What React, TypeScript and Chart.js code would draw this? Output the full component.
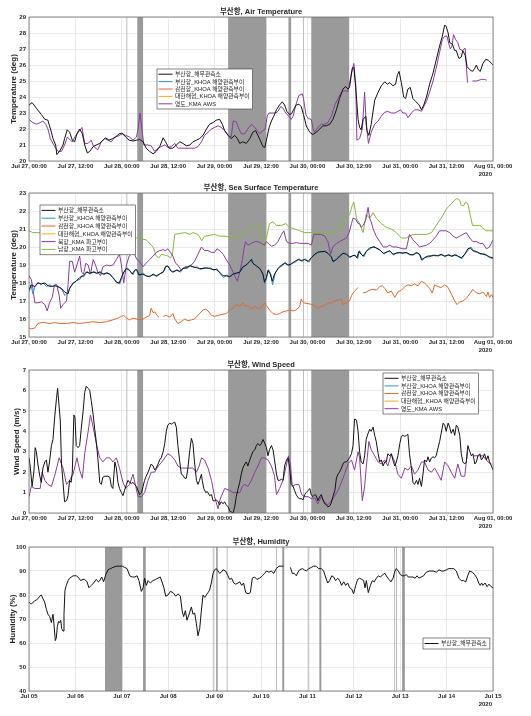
import React, { useEffect, useRef } from 'react';
import { Chart, registerables } from 'chart.js';
Chart.register(...registerables);

type Pt = [number, number | null];

// ---------- tick labels ----------
const JUL27_TICKS = ['Jul 27, 00:00', 'Jul 27, 12:00', 'Jul 28, 00:00', 'Jul 28, 12:00', 'Jul 29, 00:00', 'Jul 29, 12:00', 'Jul 30, 00:00', 'Jul 30, 12:00', 'Jul 31, 00:00', 'Jul 31, 12:00', 'Aug 01, 00:00'];
const JUL05_TICKS = ['Jul 05', 'Jul 06', 'Jul 07', 'Jul 08', 'Jul 09', 'Jul 10', 'Jul 11', 'Jul 12', 'Jul 13', 'Jul 14', 'Jul 15'];
const YEAR_LABEL = '2020';

// ---------- legend labels ----------
const L_OBS = '부산항_해무관측소';
const L_KHOA_BUSAN = '부산항_KHOA 해양관측부이';
const L_KHOA_GAMCHEON = '감천항_KHOA 해양관측부이';
const L_KHOA_STRAIT = '대한해협_KHOA 해양관측부이';
const L_AWS = '영도_KMA AWS';
const L_NORTH = '북항_KMA 파고부이';
const L_SOUTH = '남항_KMA 파고부이';

// ---------- shaded periods (hours from start) ----------
const BANDS_JUL27: [number, number][] = [[28.0, 29.5], [51.5, 61.4], [67.1, 67.8], [73.0, 82.8]];
const MARKS_JUL27 = [25.3, 71.0];
const BANDS_JUL05: [number, number][] = [[39.3, 48.3], [59.0, 60.4], [96.8, 97.6], [131.0, 132.0], [150.2, 151.2], [193.0, 194.4]];
const MARKS_JUL05 = [95.3, 102.5, 128.0, 144.7, 189.1, 190.1];

// ---------- Air temperature (hours since Jul 27 00:00, deg) ----------
const AIR_OBS: Pt[] = [[0,23.5],[0.8,23.65],[1.9,23.3],[3.2,22.9],[4.1,22.6],[4.9,22.55],[5.3,22.2],[5.8,21.8],[6.2,21.4],[6.9,21.0],[7.2,20.4],[7.9,20.6],[8.8,21.0],[9.2,21.4],[9.9,21.95],[10.5,21.8],[11.2,21.3],[11.8,21.2],[12.4,21.7],[13.1,22.0],[13.8,21.7],[14.4,21.0],[15.1,20.5],[15.7,20.6],[16.6,20.9],[17.4,21.0],[18.3,21.1],[19.1,21.3],[19.8,21.45],[20.7,21.3],[21.6,21.4],[22.4,21.5],[23.3,21.7],[24.1,21.75],[25.0,21.5],[25.9,21.3],[26.9,21.25],[27.8,21.3],[28.6,21.35],[29.5,21.2],[30.3,20.8],[31.2,20.6],[32.1,20.45],[32.9,20.6],[33.8,20.9],[34.7,21.45],[35.3,21.2],[36.2,20.8],[37.2,20.8],[38.1,21.0],[39.0,21.2],[39.8,21.1],[40.7,20.95],[41.6,21.0],[42.4,21.2],[43.3,21.3],[44.1,21.4],[45.0,21.6],[45.9,22.0],[46.7,22.3],[47.6,22.4],[48.4,22.55],[49.3,22.6],[50.0,22.3],[50.6,21.9],[51.5,21.6],[52.3,21.4],[53.2,21.6],[53.9,21.4],[54.5,21.1],[55.3,21.2],[56.2,21.1],[57.1,21.4],[57.9,21.8],[58.6,21.9],[59.2,21.6],[59.8,21.3],[60.5,20.9],[61.0,20.85],[61.4,21.3],[62.1,22.1],[62.7,22.5],[63.3,22.8],[64.0,23.2],[64.8,23.5],[65.5,23.7],[66.1,23.5],[66.7,23.1],[67.4,22.9],[67.9,22.95],[68.4,23.2],[69.1,23.5],[69.8,23.55],[70.4,23.4],[71.0,22.9],[71.7,22.2],[72.6,21.8],[73.4,21.65],[74.3,21.8],[75.2,22.0],[76.0,22.2],[76.9,22.2],[77.8,22.3],[78.6,22.6],[79.5,23.2],[80.3,23.9],[81.2,24.5],[81.9,24.65],[82.5,24.5],[82.9,24.6],[83.6,25.8],[84.0,25.85],[84.5,24.6],[85.1,22.6],[85.5,22.1],[85.9,21.95],[86.4,22.6],[87.1,22.8],[87.4,21.9],[87.9,21.6],[88.5,22.3],[89.4,23.8],[90.3,24.3],[91.1,24.7],[92.0,24.95],[92.7,24.8],[93.3,24.9],[94.1,24.7],[94.8,24.8],[95.3,25.4],[95.7,25.6],[96.3,24.9],[96.9,24.0],[97.4,23.9],[98.0,24.5],[98.6,24.6],[99.3,23.9],[100.1,23.7],[100.9,23.5],[101.5,23.2],[102.1,23.5],[102.8,24.0],[103.6,24.8],[104.5,25.5],[105.3,26.3],[106.2,27.2],[106.9,27.8],[107.5,28.5],[107.9,28.4],[108.4,28.0],[108.8,27.4],[109.5,27.3],[110.1,26.9],[110.5,26.9],[111.2,26.4],[111.8,26.5],[112.2,26.9],[112.8,26.6],[113.3,25.9],[114.0,25.7],[114.7,25.6],[115.3,25.8],[115.7,26.0],[116.2,25.7],[116.7,25.6],[117.4,26.1],[118.1,26.35],[118.8,26.3],[119.6,26.1],[120,26.0]];

const AIR_AWS: Pt[] = [[0,22.6],[1.0,22.4],[1.9,22.3],[2.9,22.4],[3.6,22.5],[4.3,22.3],[4.9,22.0],[5.5,21.4],[6.2,21.1],[6.9,20.8],[7.5,20.6],[8.4,20.6],[9.2,21.0],[9.9,21.5],[10.7,21.3],[11.2,21.2],[12.1,21.6],[13.1,21.9],[13.7,22.1],[14.4,21.1],[15.3,21.1],[16.1,21.3],[16.7,20.9],[17.8,20.7],[18.7,21.2],[19.6,21.4],[20.4,21.3],[21.3,21.2],[22.2,21.5],[23.0,21.55],[24.1,21.7],[25.0,21.6],[26.0,21.5],[26.9,21.3],[27.8,21.5],[28.2,22.0],[28.7,23.0],[29.2,22.0],[29.7,21.0],[30.8,21.0],[31.6,20.95],[32.5,20.6],[33.4,20.8],[34.2,20.9],[35.1,21.0],[35.9,20.85],[36.8,20.9],[37.7,21.1],[38.5,20.8],[39.4,20.8],[41.1,20.8],[42.8,20.8],[43.7,20.9],[44.6,21.2],[45.4,21.6],[46.3,21.8],[47.2,22.0],[48.0,22.1],[48.9,22.2],[49.7,22.1],[50.6,21.9],[51.5,21.6],[52.3,21.5],[52.8,22.5],[53.6,22.45],[54.3,22.0],[54.9,21.7],[55.8,21.7],[56.6,22.0],[57.5,22.3],[58.4,22.1],[59.0,21.9],[59.7,21.7],[60.5,21.9],[61.1,22.0],[61.6,22.8],[62.1,23.0],[63.8,23.0],[64.4,23.1],[65.1,23.4],[65.7,23.3],[66.4,23.0],[67.2,22.8],[67.8,22.6],[68.3,22.8],[69.0,23.5],[69.8,24.1],[70.7,24.2],[71.0,23.9],[71.6,22.9],[72.2,22.65],[73.0,22.6],[73.5,22.0],[73.9,21.8],[74.7,22.1],[75.6,22.3],[76.5,22.3],[77.3,22.4],[78.2,22.8],[79.1,23.5],[79.9,23.9],[80.8,24.3],[81.6,24.4],[82.5,24.35],[83.4,25.5],[84.0,26.1],[84.5,24.8],[84.8,21.3],[85.5,21.4],[86.2,22.0],[86.8,24.3],[87.2,22.3],[87.8,21.1],[88.5,21.8],[89.4,22.3],[90.3,22.5],[91.1,22.8],[92.0,23.05],[92.8,23.1],[93.7,23.0],[94.6,23.0],[95.4,23.1],[96.1,23.2],[96.7,23.0],[97.4,23.0],[98.0,22.7],[98.9,23.0],[99.7,23.2],[100.6,23.2],[101.5,23.1],[102.1,23.4],[102.9,23.8],[103.6,24.3],[104.5,25.0],[105.3,25.8],[106.2,26.8],[106.9,27.6],[107.5,27.8],[108.1,27.8],[108.6,27.3],[109.0,27.0],[109.4,27.2],[109.8,27.9],[110.3,27.6],[110.9,27.4],[111.4,27.0],[112.1,26.9],[112.5,27.0],[112.8,27.05],[113.1,26.0],[113.4,24.9],[114.0,null],[114.7,25.0],[115.7,25.0],[117.0,25.1],[117.8,25.1],[118.4,25.05]];

// ---------- Sea surface temperature ----------
const SST_OBS: Pt[] = [[0,17.6],[0.6,17.9],[1.5,17.8],[2.3,18.0],[3.2,17.95],[4.1,18.0],[4.9,17.85],[5.8,17.8],[6.6,17.85],[7.5,17.8],[8.4,17.7],[9.2,17.5],[10.1,17.4],[10.5,17.7],[11.4,18.0],[12.2,18.1],[13.1,18.3],[14.0,18.4],[14.8,18.6],[15.7,18.55],[16.6,18.6],[17.4,18.55],[18.3,18.6],[19.1,18.5],[20.0,18.55],[20.9,18.5],[21.7,18.3],[22.6,18.05],[23.3,18.0],[23.9,18.3],[24.5,18.6],[25.2,18.8],[26.0,18.7],[26.7,18.5],[27.3,18.7],[27.8,18.75],[28.4,18.45],[29.3,18.5],[30.3,18.4],[31.2,18.35],[32.1,18.5],[32.9,18.4],[33.8,18.5],[34.7,18.6],[35.3,18.9],[35.9,18.95],[36.6,18.7],[37.2,18.6],[38.1,18.7],[39.0,18.65],[39.8,18.8],[40.7,18.85],[41.6,18.95],[42.4,18.9],[43.3,18.85],[44.1,18.8],[45.0,18.8],[45.9,18.85],[46.7,18.8],[47.6,18.75],[48.4,18.75],[49.3,18.6],[50.2,18.4],[51.0,18.4],[51.9,18.35],[52.8,18.5],[53.6,18.55],[54.5,18.6],[55.3,18.9],[56.2,19.0],[57.1,19.2],[57.5,19.3],[57.9,19.1],[58.8,18.95],[59.7,18.8],[60.5,18.5],[60.9,18.05],[61.4,18.3],[61.8,18.7],[62.4,18.5],[62.9,18.1],[63.5,18.5],[64.4,18.8],[65.3,19.0],[66.1,19.1],[67.0,19.0],[67.8,19.05],[68.7,19.2],[69.6,19.3],[70.4,19.25],[71.3,19.3],[72.2,19.2],[73.0,19.4],[73.9,19.6],[74.7,19.7],[75.6,19.75],[76.5,19.75],[77.3,19.65],[78.2,19.45],[78.6,19.2],[79.5,19.3],[80.3,19.5],[81.2,19.65],[82.1,19.6],[82.9,19.45],[83.6,19.5],[84.3,19.55],[84.8,19.4],[85.3,19.75],[85.9,19.6],[86.4,19.5],[87.2,19.75],[88.1,19.95],[89.0,20.0],[89.8,19.95],[90.7,19.85],[91.6,19.65],[92.4,19.7],[93.3,19.8],[94.1,19.6],[95.0,19.65],[95.9,19.7],[96.7,19.65],[97.6,19.7],[98.4,19.6],[99.3,19.55],[100.2,19.7],[101.0,19.6],[101.5,19.3],[102.3,19.4],[103.2,19.5],[104.1,19.5],[104.9,19.55],[105.8,19.5],[106.6,19.6],[107.5,19.5],[108.4,19.55],[109.2,19.5],[110.1,19.55],[110.9,19.5],[111.8,19.4],[112.7,19.6],[113.5,19.9],[114.1,19.95],[114.8,19.8],[115.7,19.75],[116.6,19.65],[117.4,19.6],[118.3,19.55],[119.1,19.45],[120,19.4]];

const SST_KHOA_BUSAN: Pt[] = [[0,17.5],[0.5,17.9],[1.0,17.4],[1.6,17.85],[2.4,18.05],[3.0,17.9],[3.7,18.0],[4.5,17.8],[5.3,17.9],[6.2,17.8],[7.0,17.9],[7.8,17.75],[8.6,17.6],[9.3,17.3],[10.0,17.45],[10.8,17.8],[11.6,18.0],[12.4,18.15],[13.2,18.2],[13.6,18.4],[14.2,18.35],[15.0,18.65],[15.8,18.5],[16.8,18.65],[17.6,18.5],[18.5,18.65],[19.4,18.45],[20.2,18.6],[21.0,18.45],[21.9,18.25],[22.8,18.0],[23.5,17.95],[24.0,18.35],[24.7,18.65],[25.4,18.85],[26.2,18.65],[26.9,18.45],[27.5,18.75],[28.0,18.7],[28.8,18.4],[29.6,18.55],[30.5,18.35],[31.4,18.4],[32.3,18.45],[33.1,18.35],[34.0,18.55],[34.9,18.65],[35.5,18.95],[36.1,18.9],[36.8,18.65],[37.5,18.65],[38.3,18.75],[39.2,18.6],[40.0,18.85],[40.9,18.8],[41.8,19.0],[42.6,18.85],[43.5,18.9],[44.3,18.75],[45.2,18.85],[46.1,18.8],[46.9,18.85],[47.8,18.7],[48.6,18.8],[49.5,18.5],[50.3,18.3],[51.2,18.45],[52.0,18.3],[52.9,18.55],[53.8,18.5],[54.7,18.65],[55.5,18.85],[56.4,19.05],[57.2,19.25],[57.7,19.35],[58.1,19.05],[59.0,18.9],[59.9,18.75],[60.6,18.4],[61.0,17.95],[61.5,18.35],[62.0,18.75],[62.6,18.45],[63.0,17.9],[63.7,18.55],[64.6,18.85],[65.5,18.95],[66.3,19.15],[67.2,18.95],[68.0,19.1],[68.9,19.15],[69.8,19.35],[70.6,19.2],[71.5,19.35],[72.4,19.15],[73.2,19.45],[74.1,19.55],[74.9,19.75],[75.8,19.7],[76.7,19.8],[77.5,19.6],[78.4,19.4],[78.8,19.15],[79.7,19.35],[80.5,19.45],[81.4,19.7],[82.3,19.55],[83.1,19.4],[83.8,19.55],[84.5,19.5],[85.0,19.35],[85.5,19.8],[86.1,19.55],[86.6,19.45],[87.4,19.8],[88.3,19.9],[89.2,20.05],[90.0,19.9],[90.9,19.8],[91.8,19.6],[92.6,19.75],[93.5,19.75],[94.3,19.55],[95.2,19.7],[96.1,19.65],[96.9,19.7],[97.8,19.65],[98.6,19.55],[99.5,19.6],[100.4,19.65],[101.2,19.55],[101.7,19.25],[102.5,19.45],[103.4,19.45],[104.3,19.55],[105.1,19.5],[106.0,19.55],[106.8,19.55],[107.7,19.45],[108.6,19.6],[109.4,19.45],[110.3,19.6],[111.1,19.45],[112.0,19.35],[112.9,19.65],[113.7,19.85],[114.3,20.0],[115.0,19.75],[115.9,19.7],[116.8,19.6],[117.6,19.65],[118.5,19.5],[119.3,19.4],[120,19.35]];

const SST_KHOA_GAMCHEON: Pt[] = [[0,15.5],[0.6,15.45],[1.5,15.5],[2.3,15.75],[3.2,15.8],[4.1,15.8],[5.3,15.75],[6.6,15.8],[7.9,15.75],[9.7,15.75],[11.4,15.8],[13.1,15.75],[14.8,15.8],[16.6,15.85],[18.3,15.8],[20.0,15.85],[21.7,15.95],[23.0,16.05],[23.9,16.15],[24.5,16.2],[25.2,16.05],[26.0,15.95],[26.9,16.05],[27.8,16.0],[28.6,15.95],[29.5,16.0],[30.3,16.1],[31.2,16.2],[31.6,16.6],[32.1,16.35],[32.6,16.4],[33.1,16.2],[33.6,16.1],[34.2,null],[34.8,16.15],[35.5,16.2],[36.4,16.1],[37.2,16.3],[37.7,16.0],[38.5,15.75],[39.4,15.85],[40.3,16.0],[41.1,15.9],[42.0,15.95],[42.8,16.0],[44.1,16.3],[45.0,16.5],[45.7,16.55],[46.3,16.45],[47.2,16.2],[48.0,16.15],[48.9,16.2],[49.7,16.25],[51.0,16.3],[51.9,16.5],[52.8,16.6],[53.6,16.8],[54.5,16.7],[55.3,16.9],[56.0,16.7],[56.6,16.75],[57.5,16.55],[58.4,16.7],[59.2,16.6],[60.1,16.6],[60.9,16.9],[61.4,16.75],[62.2,16.5],[63.1,16.3],[64.0,16.25],[64.8,16.3],[65.7,16.4],[66.6,16.45],[67.4,16.5],[68.3,16.45],[69.1,16.5],[70.0,16.7],[70.4,17.1],[71.0,16.9],[72.2,16.85],[73.4,16.8],[74.7,16.6],[75.6,16.7],[76.5,16.75],[77.3,16.9],[78.2,16.9],[79.1,17.0],[79.9,17.05],[80.8,17.1],[81.2,16.8],[82.1,16.9],[82.9,17.0],[83.4,17.3],[84.0,17.5],[84.5,17.6],[85.1,17.75],[85.7,null],[86.4,17.45],[87.2,17.5],[88.1,17.6],[89.0,17.65],[89.8,17.6],[90.7,17.8],[91.4,17.85],[92.0,17.7],[92.8,17.45],[93.7,17.55],[94.6,17.2],[95.4,17.5],[96.3,17.6],[97.2,17.8],[98.0,17.9],[98.9,17.85],[99.7,17.95],[100.6,17.85],[101.5,18.1],[102.3,18.0],[102.8,17.9],[103.6,17.7],[104.3,17.45],[104.9,17.9],[105.8,17.8],[106.6,17.75],[107.5,17.9],[108.4,17.75],[109.2,17.4],[110.1,17.0],[110.7,16.8],[111.4,16.95],[112.2,17.0],[113.1,17.15],[114.0,17.4],[114.8,17.65],[115.7,17.45],[116.6,17.4],[117.4,17.5],[118.3,17.25],[118.7,17.5],[119.1,17.2],[119.6,17.35],[120,17.2]];

const SST_NORTH: Pt[] = [[0,18.4],[0.6,18.2],[1.0,17.7],[1.5,16.9],[2.3,16.9],[3.2,16.95],[4.1,16.8],[4.7,16.45],[5.3,16.9],[6.0,17.2],[6.6,17.9],[7.2,17.9],[7.8,17.3],[8.2,16.6],[8.8,16.8],[9.7,17.0],[10.1,17.9],[10.5,19.2],[11.2,19.2],[11.8,18.6],[12.4,19.0],[13.1,19.5],[13.6,18.6],[14.1,18.5],[14.7,19.1],[15.3,19.0],[15.9,18.5],[16.6,19.3],[17.2,19.0],[17.8,18.6],[18.5,18.4],[19.1,18.9],[20.0,19.0],[20.9,18.95],[21.7,19.0],[22.6,19.3],[23.4,19.6],[23.9,19.0],[24.5,18.0],[25.2,19.0],[25.9,19.5],[26.5,19.6],[27.3,19.6],[27.9,19.3],[28.6,19.2],[29.5,18.9],[30.3,19.1],[31.2,19.3],[32.1,19.5],[32.9,19.7],[33.8,19.8],[34.7,19.85],[35.3,19.8],[35.9,19.9],[36.6,19.7],[37.2,19.5],[37.9,19.1],[38.5,19.0],[39.4,18.7],[40.3,18.9],[41.1,18.9],[42.0,19.0],[42.8,19.2],[43.7,19.6],[44.6,20.0],[45.4,19.8],[46.3,19.8],[47.2,19.7],[48.0,19.7],[48.6,19.9],[49.3,19.8],[50.2,19.6],[51.0,19.3],[51.9,19.0],[52.8,18.6],[53.2,18.4],[53.9,18.1],[54.5,18.6],[55.2,19.3],[55.6,19.9],[56.0,20.3],[56.6,20.1],[57.5,20.2],[58.4,20.3],[59.2,20.3],[60.1,20.2],[60.9,20.1],[61.4,20.3],[62.1,20.15],[62.7,20.05],[63.5,20.1],[64.4,20.3],[65.3,20.7],[65.9,20.9],[66.6,20.3],[67.4,20.2],[68.3,20.2],[69.1,20.25],[70.0,20.2],[71.0,20.2],[72.2,20.2],[73.0,20.1],[73.7,20.7],[74.7,20.7],[75.6,20.7],[76.5,20.6],[77.3,20.3],[78.0,19.6],[78.6,20.0],[79.5,20.2],[80.3,20.3],[81.2,20.4],[82.1,20.5],[82.8,20.8],[83.4,21.3],[83.8,21.6],[84.5,21.55],[85.1,21.3],[85.5,21.3],[85.9,21.1],[86.4,21.2],[87.1,21.5],[87.7,22.2],[88.1,21.6],[88.5,21.4],[89.0,21.0],[89.8,20.6],[90.7,20.3],[91.6,20.0],[92.4,20.0],[93.3,20.1],[94.1,20.0],[95.0,20.0],[95.9,19.95],[96.7,19.9],[97.6,19.9],[98.4,20.7],[99.3,20.4],[100.2,20.2],[101.0,20.0],[101.9,20.05],[102.8,20.1],[103.6,20.2],[104.5,20.4],[105.3,20.6],[106.2,20.9],[107.1,20.9],[107.9,20.9],[108.8,20.8],[109.7,20.6],[110.5,20.5],[111.4,20.6],[112.2,20.7],[113.1,20.8],[114.0,20.5],[114.8,20.3],[115.7,20.3],[116.6,20.2],[117.4,20.2],[118.3,19.9],[119.1,20.0],[120,20.4]];

const SST_SOUTH: Pt[] = [[0,20.9],[1.0,20.8],[2.3,20.8],[3.6,20.75],[4.9,20.7],[6.2,20.7],[7.5,20.65],[8.8,20.6],[10.1,20.5],[11.4,20.5],[14.0,20.5],[16.6,20.5],[17.8,20.5],[19.1,20.3],[20.4,20.1],[21.7,20.0],[23.0,19.9],[24.3,20.2],[25.2,20.5],[26.5,20.6],[27.8,20.5],[29.1,20.45],[30.3,20.4],[31.2,20.2],[32.1,20.0],[32.9,19.5],[33.6,19.4],[34.3,19.6],[35.1,19.55],[35.9,19.5],[36.6,19.4],[37.1,19.6],[37.7,20.7],[39.0,20.75],[40.3,20.8],[41.6,20.7],[42.4,20.8],[43.7,20.7],[44.7,20.35],[45.4,20.6],[46.7,20.65],[48.0,20.7],[49.3,20.6],[51.0,20.6],[52.8,20.5],[54.1,20.6],[55.3,20.7],[56.6,20.9],[57.9,21.2],[58.8,21.3],[59.5,21.2],[59.9,20.8],[60.5,20.0],[61.4,20.5],[62.2,21.3],[63.1,21.4],[64.0,21.2],[65.3,21.2],[66.4,21.3],[67.4,21.1],[68.7,21.0],[70.0,20.9],[71.3,20.8],[73.9,20.8],[76.5,20.8],[77.8,20.7],[78.6,20.8],[79.5,20.9],[80.3,21.1],[81.2,21.5],[82.1,21.6],[82.9,21.8],[83.6,22.3],[84.0,22.5],[84.7,21.6],[85.5,21.3],[86.4,20.8],[87.2,21.8],[88.1,21.6],[89.0,21.9],[89.8,21.6],[91.1,21.3],[92.4,21.1],[93.7,21.0],[95.0,20.8],[96.3,20.5],[97.6,20.5],[99.3,20.7],[101.0,20.7],[102.8,20.7],[104.1,20.8],[105.3,21.2],[106.6,21.6],[107.9,22.1],[109.2,22.4],[110.1,22.6],[110.7,22.7],[111.4,22.6],[111.8,22.3],[112.4,22.3],[112.9,22.5],[113.5,22.4],[114.1,21.8],[114.7,21.2],[115.7,21.2],[116.6,21.2],[117.4,21.05],[118.1,20.9],[119.1,20.9],[120,20.9]];

// ---------- Wind speed (m/s) ----------
const WIND_OBS: Pt[] = [[0,2.7],[0.3,2.3],[0.8,1.3],[1.3,2.1],[1.6,3.2],[1.9,3.0],[2.3,2.4],[2.8,1.8],[3.2,1.5],[3.6,2.2],[4.1,2.5],[4.5,2.6],[4.9,2.0],[5.3,2.5],[5.8,3.3],[6.2,3.6],[6.6,4.6],[7.1,5.6],[7.4,6.1],[7.8,5.2],[8.1,4.5],[8.4,2.4],[8.8,1.5],[9.2,0.55],[9.7,0.6],[10.1,0.85],[10.5,1.6],[10.9,1.5],[11.2,2.0],[11.6,4.8],[11.9,4.7],[12.2,3.3],[12.7,3.2],[13.1,3.3],[13.5,4.1],[14.0,5.0],[14.4,5.9],[14.8,6.2],[15.3,6.1],[15.7,6.0],[16.1,5.5],[16.6,4.8],[17.0,4.1],[17.4,3.5],[17.8,2.7],[18.3,1.5],[18.7,1.4],[19.1,1.75],[19.6,1.8],[20.4,1.8],[20.9,1.75],[21.3,1.3],[21.7,1.2],[22.2,2.5],[22.6,2.2],[23.0,1.5],[23.4,1.2],[23.9,1.0],[24.3,0.85],[24.7,1.1],[25.2,1.4],[25.6,1.6],[26.0,1.5],[26.5,1.45],[26.9,1.5],[27.3,1.4],[27.8,1.3],[28.2,1.1],[28.6,0.9],[29.1,1.0],[29.5,1.3],[29.9,1.6],[30.3,1.8],[30.8,2.0],[31.2,2.2],[31.6,2.4],[32.1,2.3],[32.5,2.1],[32.9,2.2],[33.4,2.4],[33.8,2.6],[34.2,2.7],[34.7,3.0],[35.1,3.4],[35.5,4.0],[35.9,4.3],[36.4,4.4],[36.8,4.35],[37.2,4.4],[37.7,4.45],[38.1,4.2],[38.5,3.3],[39.0,2.5],[39.4,1.9],[39.8,1.85],[40.3,1.7],[40.7,1.7],[41.1,2.2],[41.6,3.1],[42.0,3.65],[42.4,3.4],[42.8,2.5],[43.3,1.6],[43.7,1.4],[44.1,1.6],[44.6,1.9],[44.8,1.6],[45.2,1.2],[45.7,1.0],[46.1,1.05],[46.7,0.85],[47.2,0.9],[47.6,0.6],[48.0,0.6],[48.4,0.65],[48.9,0.55],[49.3,0.4],[49.7,0.55],[50.2,0.45],[50.6,0.55],[51.0,0.4],[51.5,0.3],[51.9,0.1],[52.3,0.05],[52.8,0.0],[53.2,0.3],[53.6,0.8],[54.1,1.2],[54.5,1.5],[54.9,1.9],[55.3,2.2],[55.8,2.4],[56.2,2.5],[56.6,2.3],[57.1,2.6],[57.5,2.8],[57.9,3.0],[58.4,3.1],[58.8,3.3],[59.2,3.4],[59.7,3.3],[60.1,3.4],[60.5,3.6],[60.9,3.45],[61.4,3.2],[61.8,2.8],[62.2,3.1],[62.7,3.3],[63.1,3.1],[63.5,2.6],[64.0,1.9],[64.4,1.6],[64.8,1.6],[65.3,1.65],[65.7,1.6],[66.1,2.3],[66.6,2.6],[67.0,2.7],[67.4,2.2],[67.8,1.4],[68.3,1.3],[68.7,1.1],[69.1,0.9],[69.6,0.75],[70.0,0.7],[70.4,0.7],[70.9,0.65],[71.3,0.9],[71.7,1.0],[72.2,1.1],[72.6,1.2],[73.0,0.9],[73.4,0.8],[73.9,0.9],[74.3,0.85],[74.7,0.6],[75.2,0.8],[75.6,0.9],[76.0,0.65],[76.5,0.45],[76.9,0.4],[77.3,0.3],[77.8,0.35],[78.2,0.5],[78.6,0.8],[79.1,1.1],[79.5,1.7],[79.9,1.9],[80.3,2.0],[80.8,2.2],[81.2,2.4],[81.6,2.5],[82.1,2.5],[82.5,2.6],[82.9,2.7],[83.4,2.9],[83.8,3.3],[84.2,4.6],[84.7,4.55],[85.1,4.0],[85.5,3.0],[85.9,2.5],[86.4,2.4],[86.8,2.8],[87.2,3.6],[87.7,3.9],[88.1,4.1],[88.5,4.0],[89.0,4.2],[89.4,3.8],[89.8,3.5],[90.3,2.9],[90.7,2.5],[91.1,2.6],[91.6,2.3],[92.0,2.5],[92.4,2.5],[92.8,2.9],[93.3,2.8],[93.7,2.9],[94.1,2.6],[94.6,2.3],[95.0,2.5],[95.4,2.8],[95.9,3.4],[96.3,3.75],[96.7,3.8],[97.2,3.75],[97.6,3.8],[98.0,3.85],[98.4,2.9],[98.9,2.2],[99.3,1.5],[99.7,1.4],[100.2,1.6],[100.6,1.4],[101.0,1.7],[101.5,1.3],[101.9,1.9],[102.3,2.6],[102.8,2.5],[103.2,2.75],[103.6,2.5],[104.1,2.7],[104.5,2.75],[104.9,2.7],[105.3,2.8],[105.8,3.2],[106.2,3.5],[106.6,3.9],[107.1,4.4],[107.5,4.3],[107.9,4.0],[108.4,4.4],[108.8,4.2],[109.2,3.9],[109.7,4.1],[110.1,3.8],[110.5,4.3],[110.9,4.2],[111.4,3.8],[111.8,2.9],[112.2,2.5],[112.7,2.4],[113.1,2.5],[113.5,3.3],[114.0,3.0],[114.4,2.8],[114.8,2.9],[115.3,2.4],[115.7,2.5],[116.1,2.8],[116.6,2.9],[117.0,2.6],[117.4,2.7],[117.8,2.9],[118.3,2.6],[118.7,2.8],[119.1,2.5],[119.6,2.3],[120,2.1]];

const WIND_AWS: Pt[] = [[0,0.8],[0.6,1.3],[1.5,1.2],[2.9,1.2],[3.4,2.0],[4.1,1.6],[4.9,1.4],[5.8,1.3],[6.6,1.8],[7.8,2.7],[8.8,2.2],[9.7,1.4],[10.5,1.6],[11.4,1.9],[12.4,2.7],[13.1,2.1],[13.8,1.7],[14.4,2.9],[15.3,4.0],[15.9,4.8],[16.6,4.2],[17.4,3.4],[18.3,2.7],[19.1,2.5],[20.0,2.7],[20.9,2.7],[21.7,2.5],[22.6,2.7],[23.4,2.2],[24.3,1.5],[25.0,1.2],[26.0,1.4],[26.9,1.9],[27.6,1.3],[28.2,0.8],[29.1,0.8],[29.9,1.0],[30.8,1.6],[31.6,2.0],[32.5,2.0],[33.4,2.3],[34.2,2.45],[35.1,2.7],[35.9,2.9],[36.8,2.8],[37.7,2.6],[38.5,2.3],[39.4,2.2],[41.6,2.2],[42.4,2.2],[43.3,2.0],[44.0,2.3],[44.6,2.7],[45.4,2.6],[46.3,2.2],[47.2,1.6],[48.0,0.8],[48.9,0.2],[49.3,0.6],[49.7,0.8],[50.6,1.2],[51.9,1.1],[52.8,1.0],[54.5,1.0],[55.2,1.3],[55.8,1.4],[56.6,1.3],[57.5,1.6],[58.4,2.0],[59.2,2.3],[60.1,2.7],[60.9,2.7],[61.8,2.6],[62.7,2.3],[63.5,1.8],[64.0,0.9],[64.8,1.2],[65.7,1.6],[66.4,2.2],[67.1,2.8],[67.6,2.4],[68.1,1.3],[69.0,1.4],[69.8,1.4],[70.5,0.9],[71.3,0.8],[72.2,0.8],[73.0,0.7],[73.9,0.75],[74.7,0.45],[75.6,0.8],[76.5,0.5],[77.3,0.4],[78.2,0.6],[79.1,0.85],[79.9,1.1],[80.8,1.5],[81.6,1.9],[82.5,2.4],[83.4,2.6],[84.2,2.1],[85.1,3.0],[85.5,2.7],[86.2,0.6],[86.8,1.3],[87.2,2.2],[87.9,3.5],[88.5,3.1],[89.4,2.8],[90.3,2.5],[91.1,2.4],[92.0,2.6],[92.8,2.3],[93.7,2.9],[94.6,2.5],[95.4,1.9],[96.3,1.7],[97.2,2.2],[98.0,2.1],[98.9,2.3],[99.7,1.9],[100.6,2.1],[101.5,2.5],[102.3,2.5],[103.2,2.1],[104.1,2.0],[104.9,2.2],[105.8,1.9],[106.6,1.6],[107.5,2.5],[108.4,2.3],[109.2,2.0],[110.1,1.7],[110.9,2.4],[111.8,1.8],[112.7,1.8],[113.4,3.0],[114.0,null],[114.8,2.8],[116.1,2.8],[117.4,2.8],[118.7,2.5],[119.6,2.4]];

// ---------- Humidity (hours since Jul 05 00:00, %) ----------
const HUM_OBS: Pt[] = [[0,77],[0.7,76.5],[1.2,76.2],[2.1,77.0],[2.9,77.5],[3.8,78],[4.7,78.5],[5.5,79.5],[6.4,80],[7.2,78.5],[8.1,77],[9.0,74],[9.8,72],[10.7,71],[11.6,68.5],[12.4,72],[12.9,68],[13.6,61],[14.1,62],[14.7,67],[15.3,69],[15.9,68.5],[16.4,69.5],[16.9,66],[17.6,65],[18.1,72],[18.6,82],[19.3,84],[20.2,86],[21.0,87],[21.9,87.5],[22.8,88],[24.5,88],[25.9,87],[26.7,86],[27.9,86.5],[28.8,86.5],[30.0,85.5],[31.0,83],[32.2,84],[33.4,85],[34.8,86.5],[35.9,85.5],[36.6,86],[37.6,87.5],[38.6,85.5],[39.7,88.5],[40.9,90.5],[42.2,91],[43.4,91.5],[45.2,92],[46.9,92],[48.3,92],[49.5,91.5],[50.7,91],[52.1,88],[53.4,87.5],[54.7,87.5],[55.9,88],[56.9,86],[58.1,81.5],[59.0,83],[59.8,87],[60.7,84],[61.6,86],[62.8,85],[64.1,86],[65.5,86.5],[66.7,87],[67.9,87.5],[69.0,85],[69.8,83],[70.7,79.5],[71.9,80],[73.1,81.5],[74.5,81],[75.9,79.5],[77.1,80.5],[78.3,79.5],[79.3,73],[80.0,71],[80.9,73.5],[81.7,69.5],[82.8,72],[84.0,75],[84.8,72],[85.7,72.5],[86.6,68],[87.4,63],[88.3,66],[89.1,73],[90.0,80],[90.9,79],[91.7,80],[92.6,81],[93.4,82],[94.3,85],[95.2,89],[96.0,90.5],[96.9,91],[97.8,90],[98.6,89],[99.5,89.5],[100.3,90.5],[101.7,90],[102.9,88],[103.8,86.5],[104.8,87],[105.9,85],[106.9,84.5],[108.1,85],[109.0,85.5],[110.0,84],[111.0,85],[112.1,81],[113.3,80.5],[114.5,81],[115.5,87],[116.7,87.5],[117.9,86.5],[119.3,87],[120.7,88],[121.9,89],[122.8,90],[124.1,89.5],[125.3,90],[126.6,89],[127.9,91],[129.3,92],[130.5,92],[131.7,92],[133.0,null],[135.2,91.5],[136.2,89],[137.2,89],[138.3,88],[139.1,89.5],[140.0,90.5],[141.4,91],[142.4,90.5],[143.4,90],[144.8,91],[146.0,91.5],[147.2,92],[148.6,92],[149.8,91],[151.2,91],[152.4,90],[153.4,87.5],[154.5,85],[155.5,86],[156.6,88],[157.6,87.5],[158.6,86],[159.7,87],[160.7,86],[161.7,84],[162.8,85.5],[163.8,84],[164.8,85],[165.9,83],[166.9,82.5],[167.9,80.5],[169.0,84],[170.0,86.5],[171.0,87],[172.1,86.5],[173.1,86],[173.8,83],[174.5,86],[175.5,81],[176.6,84],[177.6,86],[178.6,85.5],[179.7,87],[180.7,88],[181.7,87.5],[183.1,88.5],[184.1,89],[185.2,87.5],[186.2,86.5],[187.2,85.5],[188.3,87],[189.3,90],[190.0,91],[191.0,90],[192.1,88.5],[193.1,88],[194.1,88],[195.2,88.5],[196.2,87.5],[197.2,87.5],[198.6,87.5],[199.7,87],[200.7,88],[201.7,87],[202.8,87.5],[204.1,88],[205.5,89.5],[207.2,90],[209.0,90],[210.7,89.5],[212.1,90.5],[213.3,90],[214.5,90],[215.9,90.5],[217.2,91],[218.6,91],[219.7,91],[221.0,90],[222.4,87],[223.6,86],[224.8,86],[225.9,85.5],[226.9,88],[227.9,90],[229.3,89.5],[230.5,88.5],[231.7,87],[232.6,85],[233.4,84],[234.1,85],[234.8,84],[235.9,85],[236.9,83.5],[237.9,84.5],[239.0,83.5],[240,83]];

// ---------- styling ----------
const TXT = '"Liberation Sans", "Noto Sans CJK KR", Arial, sans-serif';
const INK = '#262626';
const GRID = '#e3e3e3';
const COL = { black: '#111111', blue: '#2f8fd2', orange: '#de6a2c', yellow: '#edb120', purple: '#8a3c9e', green: '#84b83c' };

type Series = { label: string; color: string; data: Pt[] };
type Panel = {
  top: number; height: number; padTop: number; xAxisH: number;
  title: string; yTitle: string; yTitlePad: number;
  yMin: number; yMax: number; yStep: number;
  xMax: number; xStep: number; xLabels: string[];
  bands: [number, number][]; marks: number[];
  legend: { x: number; y: number; rowH: number };
  series: Series[];
};

const FIVE_SERIES = (obs: Pt[], aws: Pt[]): Series[] => [
  { label: L_OBS, color: COL.black, data: obs },
  { label: L_KHOA_BUSAN, color: COL.blue, data: [] },
  { label: L_KHOA_GAMCHEON, color: COL.orange, data: [] },
  { label: L_KHOA_STRAIT, color: COL.yellow, data: [] },
  { label: L_AWS, color: COL.purple, data: aws },
];

const PANELS: Panel[] = [
  {
    top: 0, height: 180, padTop: 17, xAxisH: 19,
    title: '부산항, Air Temperature', yTitle: 'Temperature (deg)', yTitlePad: 9,
    yMin: 20, yMax: 29, yStep: 1, xMax: 120, xStep: 12, xLabels: JUL27_TICKS,
    bands: BANDS_JUL27, marks: MARKS_JUL27,
    legend: { x: 157, y: 69, rowH: 7.4 },
    series: FIVE_SERIES(AIR_OBS, AIR_AWS),
  },
  {
    top: 178, height: 182, padTop: 15, xAxisH: 23,
    title: '부산항, Sea Surface Temperature', yTitle: 'Temperature (deg)', yTitlePad: 9,
    yMin: 15, yMax: 23, yStep: 1, xMax: 120, xStep: 12, xLabels: JUL27_TICKS,
    bands: BANDS_JUL27, marks: MARKS_JUL27,
    legend: { x: 40, y: 27, rowH: 7.8 },
    series: [
      { label: L_OBS, color: COL.black, data: SST_OBS },
      { label: L_KHOA_BUSAN, color: COL.blue, data: SST_KHOA_BUSAN },
      { label: L_KHOA_GAMCHEON, color: COL.orange, data: SST_KHOA_GAMCHEON },
      { label: L_KHOA_STRAIT, color: COL.yellow, data: [] },
      { label: L_NORTH, color: COL.purple, data: SST_NORTH },
      { label: L_SOUTH, color: COL.green, data: SST_SOUTH },
    ],
  },
  {
    top: 358, height: 172, padTop: 12, xAxisH: 17,
    title: '부산항, Wind Speed', yTitle: 'Wind Speed (m/s)', yTitlePad: 12,
    yMin: 0, yMax: 7, yStep: 1, xMax: 120, xStep: 12, xLabels: JUL27_TICKS,
    bands: BANDS_JUL27, marks: MARKS_JUL27,
    legend: { x: 383, y: 15, rowH: 7.6 },
    series: FIVE_SERIES(WIND_OBS, WIND_AWS),
  },
  {
    top: 530, height: 186, padTop: 17, xAxisH: 25,
    title: '부산항, Humidity', yTitle: 'Humidity (%)', yTitlePad: 8,
    yMin: 40, yMax: 100, yStep: 10, xMax: 240, xStep: 24, xLabels: JUL05_TICKS,
    bands: BANDS_JUL05, marks: MARKS_JUL05,
    legend: { x: 423, y: 108, rowH: 8 },
    series: [{ label: L_OBS, color: COL.black, data: HUM_OBS }],
  },
];

const decoPlugin = {
  id: 'deco',
  beforeDatasetsDraw(chart: any, _a: any, opts: any) {
    const { ctx, chartArea: ca } = chart;
    const xs = chart.scales.x;
    ctx.save();
    ctx.fillStyle = '#9a9a9a';
    (opts.bands || []).forEach(([a, b]: [number, number]) => {
      const x1 = xs.getPixelForValue(a);
      const x2 = xs.getPixelForValue(b);
      ctx.fillRect(x1, ca.top, Math.max(x2 - x1, 1.5), ca.bottom - ca.top);
    });
    ctx.fillStyle = '#bdbdbd';
    (opts.marks || []).forEach((m: number) => {
      const x = xs.getPixelForValue(m);
      ctx.fillRect(x - 0.5, ca.top, 1, ca.bottom - ca.top);
    });
    ctx.restore();
  },
  afterDraw(chart: any, _a: any, opts: any) {
    const { ctx, chartArea: ca } = chart;
    ctx.save();
    // axes box
    ctx.strokeStyle = '#6e6e6e';
    ctx.lineWidth = 0.8;
    ctx.strokeRect(ca.left, ca.top, ca.right - ca.left, ca.bottom - ca.top);
    // title
    ctx.fillStyle = INK;
    ctx.font = `bold 7.5px ${TXT}`;
    ctx.textAlign = 'center';
    ctx.textBaseline = 'middle';
    ctx.fillText(opts.title, (ca.left + ca.right) / 2, ca.top - 5);
    // year under last tick
    ctx.font = `bold 6px ${TXT}`;
    ctx.textAlign = 'right';
    ctx.fillText(YEAR_LABEL, ca.right - 1, ca.bottom + 13.5);
    // legend box
    const lg = opts.legend;
    const ds = chart.data.datasets;
    ctx.font = `5.8px ${TXT}`;
    let maxW = 0;
    ds.forEach((d: any) => { maxW = Math.max(maxW, ctx.measureText(d.label).width); });
    const lineLen = 14, gap = 2.5, padX = 1.5;
    const w = padX + lineLen + gap + maxW + 3;
    const h = ds.length * lg.rowH + 3;
    ctx.fillStyle = '#ffffff';
    ctx.fillRect(lg.x, lg.y, w, h);
    ctx.strokeStyle = '#333333';
    ctx.lineWidth = 0.6;
    ctx.strokeRect(lg.x, lg.y, w, h);
    ds.forEach((d: any, i: number) => {
      const cy = lg.y + 1.5 + lg.rowH * (i + 0.5);
      ctx.strokeStyle = d.borderColor;
      ctx.lineWidth = 1;
      ctx.beginPath();
      ctx.moveTo(lg.x + padX, cy);
      ctx.lineTo(lg.x + padX + lineLen, cy);
      ctx.stroke();
      ctx.fillStyle = '#1a1a1a';
      ctx.textAlign = 'left';
      ctx.textBaseline = 'middle';
      ctx.fillText(d.label, lg.x + padX + lineLen + gap, cy + 0.3);
    });
    ctx.restore();
  },
};

function PanelChart({ p }: { p: Panel }) {
  const ref = useRef<HTMLCanvasElement | null>(null);
  useEffect(() => {
    if (!ref.current) return;
    const tickFont = { family: TXT, size: 6, weight: 'bold' as const };
    const chart = new Chart(ref.current, {
      type: 'line',
      data: {
        datasets: p.series.map((s) => ({
          label: s.label,
          data: s.data.map(([x, y]) => ({ x, y })),
          borderColor: s.color,
          backgroundColor: s.color,
          borderWidth: 1,
          pointRadius: 0,
          tension: 0,
          spanGaps: false,
          fill: false,
        })),
      },
      options: {
        animation: false,
        responsive: false,
        maintainAspectRatio: false,
        devicePixelRatio: 1,
        layout: { padding: { top: p.padTop, right: 38, left: 0, bottom: 0 } },
        plugins: {
          legend: { display: false },
          tooltip: { enabled: false },
          title: { display: false },
          deco: { title: p.title, bands: p.bands, marks: p.marks, legend: p.legend },
        } as any,
        scales: {
          x: {
            type: 'linear',
            min: 0,
            max: p.xMax,
            afterFit: (s: any) => { s.height = p.xAxisH; },
            ticks: {
              stepSize: p.xStep,
              autoSkip: false,
              maxRotation: 0,
              minRotation: 0,
              padding: 2,
              color: INK,
              font: tickFont,
              callback: (v: any) => p.xLabels[Math.round(Number(v) / p.xStep)] ?? '',
            },
            grid: { color: GRID, lineWidth: 0.8, drawTicks: false },
            border: { display: false },
          },
          y: {
            type: 'linear',
            min: p.yMin,
            max: p.yMax,
            afterFit: (s: any) => { s.width = 29; },
            ticks: { stepSize: p.yStep, padding: 3, color: INK, font: tickFont },
            title: {
              display: true,
              text: p.yTitle,
              color: INK,
              font: { family: TXT, size: 8, weight: 'bold' },
              padding: { top: p.yTitlePad, bottom: 0 },
            },
            grid: { color: GRID, lineWidth: 0.8, drawTicks: false },
            border: { display: false },
          },
        },
      } as any,
      plugins: [decoPlugin],
    });
    return () => chart.destroy();
  }, [p]);
  return (
    <canvas
      ref={ref}
      width={531}
      height={p.height}
      style={{ position: 'absolute', left: 0, top: p.top, width: 531, height: p.height }}
    />
  );
}

export default function App() {
  return (
    <div style={{ position: 'absolute', left: 0, top: 0, width: 531, height: 716, background: '#ffffff', overflow: 'hidden' }}>
      {PANELS.map((p, i) => (
        <PanelChart key={i} p={p} />
      ))}
    </div>
  );
}
